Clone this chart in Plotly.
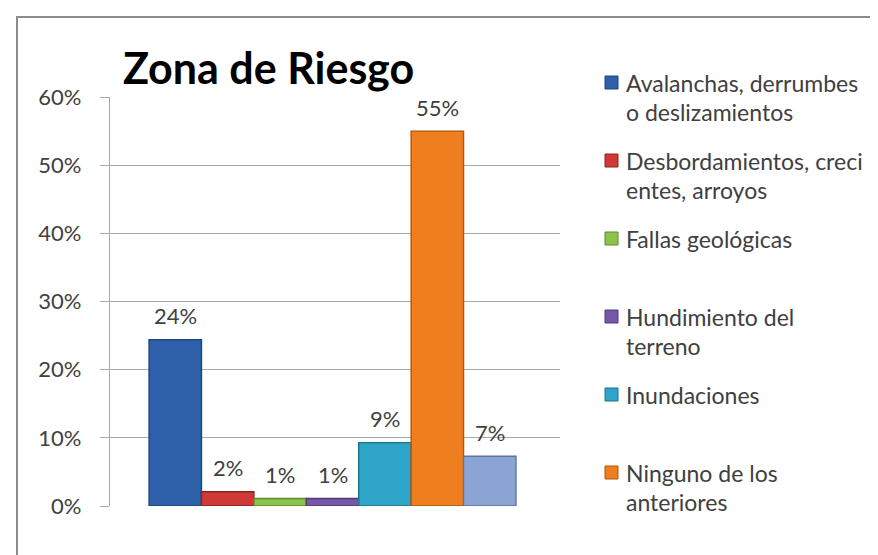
import plotly.graph_objects as go

# datos
categorias = ["Avalanchas, derrumbes o deslizamientos", "Desbordamientos, crecientes, arroyos",
              "Fallas geológicas", "Hundimiento del terreno", "Inundaciones",
              "Ninguno de los anteriores", "Otros"]
porcentajes = [24.4, 2.1, 1.1, 1.1, 9.3, 55.0, 7.3]

# texto de la leyenda, cortado como en el original
lineas_leyenda = [
    ["Avalanchas, derrumbes", "o deslizamientos"],
    ["Desbordamientos, creci", "entes, arroyos"],
    ["Fallas geológicas"],
    ["Hundimiento del", "terreno"],
    ["Inundaciones"],
    ["Ninguno de los", "anteriores"],
]

colores = ["#2D60A8", "#CF3A37", "#8CC34A", "#7558A8", "#2EA5C8", "#EF7F1E", "#8BA4D4"]
bordes = ["#1D467F", "#8E2220", "#5E8A2A", "#4E3878", "#1C7490", "#B0560E", "#5C74A3"]

fuente = "Lato, Calibri, sans-serif"
gris_texto = "#404040"
gris_linea = "#A8A8A8"

# area del grafico en pixeles
L, R, T, B = 102, 552, 89, 498
W, H = 878, 555


def px_x(p):
    return (p - L) / (R - L)


def px_y(p):
    return (B - p) / (B - T)


fig = go.Figure()

for i, (nombre, v) in enumerate(zip(categorias, porcentajes)):
    fig.add_trace(go.Bar(
        x=[i], y=[v], width=1, name=nombre, showlegend=False,
        marker=dict(color=colores[i], line=dict(color=bordes[i], width=1.4)),
        hoverinfo="name+y",
    ))
    # etiqueta del valor encima de la barra
    fig.add_annotation(x=i, y=v, text=f"{v:.0f}%", showarrow=False, yshift=24,
                       font=dict(family=fuente, size=22, color=gris_texto))

# leyenda a mano (espaciado uniforme como en Excel)
for k, lineas in enumerate(lineas_leyenda):
    y0 = 75 + k * 78
    fig.add_shape(type="rect", xref="paper", yref="paper",
                  x0=px_x(597), x1=px_x(610), y0=px_y(y0 + 6), y1=px_y(y0 - 7),
                  fillcolor=colores[k], line=dict(color=bordes[k], width=1))
    for j, t in enumerate(lineas):
        fig.add_annotation(xref="paper", yref="paper", x=px_x(616), y=px_y(y0 + j * 29),
                           xanchor="left", yanchor="middle", text=t, showarrow=False,
                           font=dict(family=fuente, size=23, color=gris_texto))

# titulo
fig.add_annotation(xref="paper", yref="paper", x=px_x(113), y=px_y(59),
                   xanchor="left", yanchor="middle", text="<b>Zona de Riesgo</b>",
                   showarrow=False, font=dict(family=fuente, size=43, color="#000000"))

# marco del grafico
fig.add_shape(type="rect", xref="paper", yref="paper",
              x0=px_x(9), x1=px_x(W + 5), y0=px_y(H + 10), y1=px_y(9),
              line=dict(color="#8C8C8C", width=2), layer="below")

fig.update_layout(
    width=W, height=H,
    margin=dict(l=L, r=W - R, t=T, b=H - B),
    paper_bgcolor="white", plot_bgcolor="white",
    barmode="overlay", showlegend=False,
    font=dict(family=fuente, color=gris_texto),
)
fig.update_xaxes(range=[-1.245, 7.34], showticklabels=False, showgrid=False,
                 zeroline=False, showline=False)
fig.update_yaxes(range=[0, 60], dtick=10, ticksuffix="%", showgrid=True,
                 gridcolor=gris_linea, gridwidth=1.3, zeroline=False,
                 showline=True, linecolor=gris_linea, linewidth=1.3,
                 ticks="outside", ticklen=9, tickcolor=gris_linea, tickwidth=1.3,
                 ticklabelstandoff=14,
                 tickfont=dict(family=fuente, size=22, color=gris_texto))

fig.write_html("out.html")
